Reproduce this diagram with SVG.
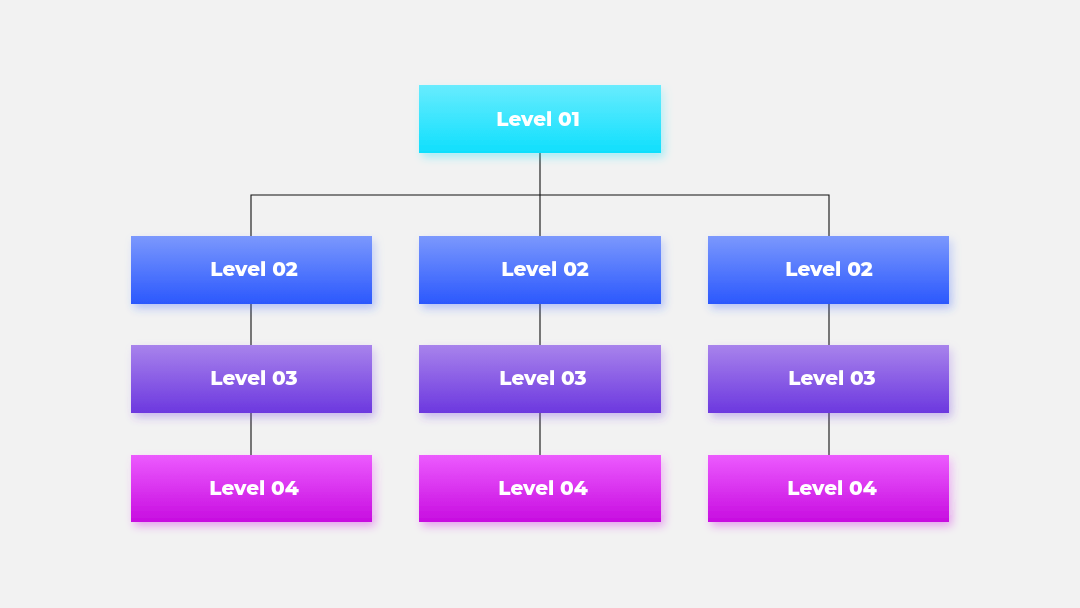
<svg xmlns="http://www.w3.org/2000/svg" width="1080" height="608" viewBox="0 0 1080 608">
<defs>
<linearGradient id="g1" x1="0" y1="0" x2="0" y2="1"><stop offset="0" stop-color="#68ecfe"/><stop offset="1" stop-color="#0fdffd"/></linearGradient>
<linearGradient id="g2" x1="0" y1="0" x2="0" y2="1"><stop offset="0" stop-color="#7b98fd"/><stop offset="1" stop-color="#2b58fd"/></linearGradient>
<linearGradient id="g3" x1="0" y1="0" x2="0" y2="1"><stop offset="0" stop-color="#a883ec"/><stop offset="1" stop-color="#6c38df"/></linearGradient>
<linearGradient id="g4" x1="0" y1="0" x2="0" y2="1"><stop offset="0" stop-color="#ec5afe"/><stop offset="1" stop-color="#c70de0"/></linearGradient>
<filter id="sh" x="-20%" y="-30%" width="140%" height="170%"><feGaussianBlur in="SourceGraphic" stdDeviation="5" result="b"/><feOffset in="b" dx="3" dy="4" result="o"/><feComponentTransfer in="o" result="t"><feFuncA type="linear" slope="0.35"/></feComponentTransfer><feMerge><feMergeNode in="t"/><feMergeNode in="SourceGraphic"/></feMerge></filter>
</defs>
<style>
.lbl{font-family:Montserrat,"Open Sans","Liberation Sans",sans-serif;font-weight:800;font-size:20px;fill:#ffffff;text-anchor:middle;dominant-baseline:central}
.ln{stroke:#111;stroke-width:1.1;fill:none}
</style>
<rect width="1080" height="608" fill="#f2f2f2"/>
<g id="connectors">
<path class="ln" d="M540 153V236M251 236V195H829V236M251 304V345M540 304V345M829 304V345M251 413V455M540 413V455M829 413V455"/>
</g>
<g id="n1" filter="url(#sh)"><rect x="419" y="85" width="242" height="68" fill="url(#g1)"/><text class="lbl" x="538" y="119">Level 01</text></g>
<g id="n2a" filter="url(#sh)"><rect x="131" y="236" width="241" height="68" fill="url(#g2)"/><text class="lbl" x="254" y="269">Level 02</text></g>
<g id="n2b" filter="url(#sh)"><rect x="419" y="236" width="242" height="68" fill="url(#g2)"/><text class="lbl" x="545" y="269">Level 02</text></g>
<g id="n2c" filter="url(#sh)"><rect x="708" y="236" width="241" height="68" fill="url(#g2)"/><text class="lbl" x="829" y="269">Level 02</text></g>
<g id="n3a" filter="url(#sh)"><rect x="131" y="345" width="241" height="68" fill="url(#g3)"/><text class="lbl" x="254" y="378">Level 03</text></g>
<g id="n3b" filter="url(#sh)"><rect x="419" y="345" width="242" height="68" fill="url(#g3)"/><text class="lbl" x="543" y="378">Level 03</text></g>
<g id="n3c" filter="url(#sh)"><rect x="708" y="345" width="241" height="68" fill="url(#g3)"/><text class="lbl" x="832" y="378">Level 03</text></g>
<g id="n4a" filter="url(#sh)"><rect x="131" y="455" width="241" height="67" fill="url(#g4)"/><text class="lbl" x="254" y="488">Level 04</text></g>
<g id="n4b" filter="url(#sh)"><rect x="419" y="455" width="242" height="67" fill="url(#g4)"/><text class="lbl" x="543" y="488">Level 04</text></g>
<g id="n4c" filter="url(#sh)"><rect x="708" y="455" width="241" height="67" fill="url(#g4)"/><text class="lbl" x="832" y="488">Level 04</text></g>
</svg>
